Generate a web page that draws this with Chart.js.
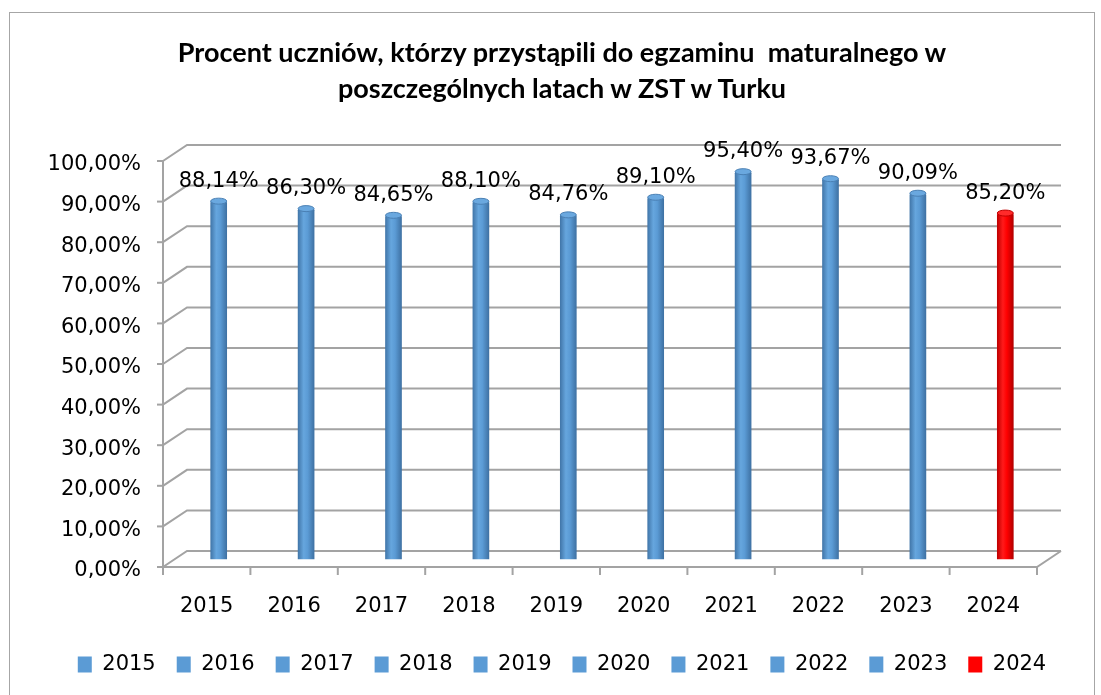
<!DOCTYPE html>
<html lang="pl">
<head>
<meta charset="utf-8">
<title>Procent uczniów - matura ZST w Turku</title>
<script src="https://cdn.jsdelivr.net/npm/chart.js@4/dist/chart.umd.min.js"></script>
<style>
    html, body { margin: 0; padding: 0; background: #fff; }
    #wrap { position: relative; width: 1101px; height: 695px; overflow: hidden; }
    #frame { position: absolute; left: 9px; top: 12px; width: 1086px; height: 720px; border: 1px solid #a6a6a6; box-sizing: border-box; }
    #chartTitle {
        position: absolute; left: 0; top: 34px; width: 1124px;
        text-align: center; white-space: pre;
        font-family: Lato, "Open Sans", sans-serif; font-weight: 700;
        font-size: 27px; line-height: 36px; color: #000;
    }
    #chart { position: absolute; left: 0; top: 0; }
</style>
</head>
<body>
<div id="wrap">
    <div id="frame"></div>
    <canvas id="chart" width="1101" height="695"></canvas>
    <div id="chartTitle">Procent uczniów, którzy przystąpili do egzaminu  maturalnego w<br>poszczególnych latach w ZST w Turku</div>
</div>

<script>
// data
const years = ["2015", "2016", "2017", "2018", "2019", "2020", "2021", "2022", "2023", "2024"];
const percentValues = [88.14, 86.30, 84.65, 88.10, 84.76, 89.10, 95.40, 93.67, 90.09, 85.20];
const yTickValues = [0, 10, 20, 30, 40, 50, 60, 70, 80, 90, 100];
const highlightYear = "2024";

// 3D look: back wall offset and bar plane (half depth)
const DEPTH_X = 24, DEPTH_Y = -16;
const BAR_X = 12, BAR_Y = -8;
const GRID = "#a3a3a3";
const FONT = "'DejaVu Sans', sans-serif";

const fmtPct = v => v.toFixed(2).replace(".", ",") + "%";
const isHighlight = label => label === highlightYear;
const solidColour = label => isHighlight(label) ? "#ff0000" : "#5b9bd5";

function barGradient(ctx) {
    const chart = ctx.chart;
    const label = chart.data.labels[ctx.dataIndex];
    const xs = chart.scales.x;
    if (!chart.chartArea || !xs) return solidColour(label);
    const cx = xs.getPixelForValue(ctx.dataIndex);
    const g = chart.ctx.createLinearGradient(cx - 8, 0, cx + 8, 0);
    if (isHighlight(label)) {
        g.addColorStop(0, "#c00000");
        g.addColorStop(0.35, "#ff1a1a");
        g.addColorStop(0.6, "#ff0000");
        g.addColorStop(1, "#b30000");
    } else {
        g.addColorStop(0, "#4277aa");
        g.addColorStop(0.35, "#66a6de");
        g.addColorStop(0.6, "#5b9bd5");
        g.addColorStop(1, "#3f72a4");
    }
    return g;
}

// walls, floor and gridlines drawn under the bars
const frame3d = {
    id: "frame3d",
    beforeDatasetsDraw(chart) {
        const { ctx, chartArea: a, scales: { y } } = chart;
        ctx.save();
        ctx.strokeStyle = GRID;
        ctx.lineWidth = 2;
        y.ticks.forEach(t => {
            const py = y.getPixelForValue(t.value);
            ctx.beginPath();
            ctx.moveTo(a.left, py);
            ctx.lineTo(a.left + DEPTH_X, py + DEPTH_Y);
            ctx.lineTo(a.right + DEPTH_X, py + DEPTH_Y);
            ctx.stroke();
            // tick mark on the front axis
            ctx.beginPath();
            ctx.moveTo(a.left - 6, py);
            ctx.lineTo(a.left, py);
            ctx.stroke();
        });
        // front vertical axis
        ctx.beginPath();
        ctx.moveTo(a.left, a.top);
        ctx.lineTo(a.left, a.bottom);
        ctx.stroke();
        // floor front + right edge
        ctx.beginPath();
        ctx.moveTo(a.left, a.bottom);
        ctx.lineTo(a.right, a.bottom);
        ctx.lineTo(a.right + DEPTH_X, a.bottom + DEPTH_Y);
        ctx.stroke();
        // category ticks
        const n = chart.data.labels.length;
        const step = (a.right - a.left) / n;
        for (let i = 0; i <= n; i++) {
            const px = a.left + i * step;
            ctx.beginPath();
            ctx.moveTo(px, a.bottom);
            ctx.lineTo(px, a.bottom + 8);
            ctx.stroke();
        }
        ctx.restore();
    }
};

// shift the bars into the middle of the depth, add caps and value labels
const barPlane = {
    id: "barPlane",
    beforeDatasetsDraw(chart) {
        chart.ctx.save();
        chart.ctx.translate(BAR_X, BAR_Y);
    },
    afterDatasetsDraw(chart) {
        const ctx = chart.ctx;
        const meta = chart.getDatasetMeta(0);
        meta.data.forEach((el, i) => {
            const hl = isHighlight(chart.data.labels[i]);
            ctx.beginPath();
            ctx.ellipse(el.x, el.y, el.width / 2, 3, 0, 0, Math.PI * 2);
            ctx.fillStyle = hl ? "#ff2a2a" : "#6aa8df";
            ctx.fill();
            ctx.lineWidth = 1;
            ctx.strokeStyle = hl ? "#c00000" : "#4a80b4";
            ctx.stroke();
        });
        ctx.restore();

        ctx.save();
        ctx.font = "21px " + FONT;
        ctx.fillStyle = "#000";
        ctx.textAlign = "center";
        ctx.textBaseline = "middle";
        meta.data.forEach((el, i) => {
            ctx.fillText(fmtPct(chart.data.datasets[0].data[i]), el.x + BAR_X, el.y + BAR_Y - 20);
        });
        ctx.restore();
    }
};

new Chart(document.getElementById("chart"), {
    type: "bar",
    data: {
        labels: years,
        datasets: [{
            label: "Procent uczniów",
            data: percentValues,
            backgroundColor: barGradient,
            borderWidth: 0,
            borderRadius: 2,
            barThickness: 16,
            clip: false
        }]
    },
    options: {
        responsive: false,
        animation: false,
        events: [],
        layout: { padding: { left: 23, right: 0, top: 161, bottom: 10 } },
        scales: {
            x: {
                grid: { display: false, drawTicks: false },
                border: { display: false },
                ticks: { color: "#000", font: { family: FONT, size: 21 }, padding: 27, maxRotation: 0 },
                afterFit: s => { s.height = 66; }
            },
            y: {
                min: 0, max: 100,
                afterBuildTicks: s => { s.ticks = yTickValues.map(v => ({ value: v })); },
                grid: { display: false, drawTicks: false },
                border: { display: false },
                ticks: { color: "#000", font: { family: FONT, size: 21 }, padding: 22, labelOffset: 4, callback: v => fmtPct(v) },
                afterFit: s => { s.width = 140; }
            },
            yr: {
                type: "linear", position: "right",
                grid: { display: false, drawTicks: false },
                border: { display: false },
                ticks: { display: false },
                afterFit: s => { s.width = 64; }
            }
        },
        plugins: {
            title: { display: false },
            tooltip: { enabled: false },
            legend: {
                position: "bottom",
                onClick: null,
                labels: {
                    boxWidth: 14, boxHeight: 16, padding: 21,
                    color: "#000",
                    font: { family: FONT, size: 21 },
                    generateLabels: chart => chart.data.labels.map((lbl, i) => ({
                        text: lbl,
                        fillStyle: solidColour(lbl),
                        strokeStyle: solidColour(lbl),
                        lineWidth: 0,
                        hidden: false,
                        index: i,
                        datasetIndex: 0
                    }))
                }
            }
        }
    },
    plugins: [frame3d, barPlane]
});
</script>
</body>
</html>
